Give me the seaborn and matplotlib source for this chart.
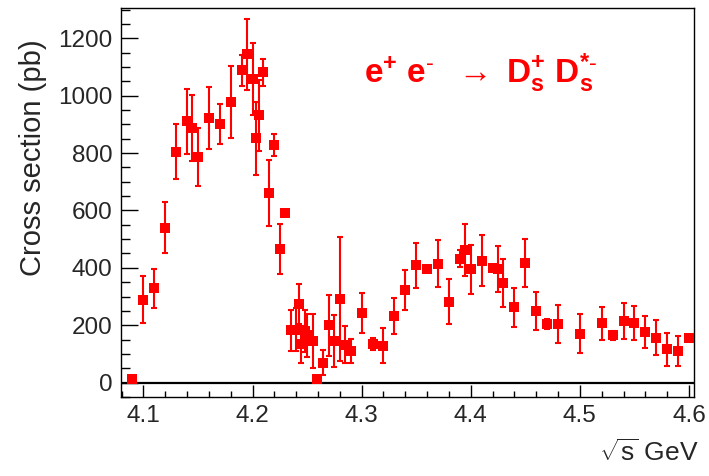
import numpy as np
import pandas as pd
import matplotlib
matplotlib.use('Agg')
import matplotlib.pyplot as plt
from matplotlib.ticker import MultipleLocator, FormatStrFormatter
import seaborn as sns

#########   data #################################
energy = [4.090, 4.100, 4.110, 4.120, 4.130, 4.140, 4.145, 4.150, 4.160, 4.170,
          4.180, 4.190, 4.195, 4.200, 4.203, 4.206, 4.210, 4.215, 4.220, 4.225,
          4.230, 4.235, 4.240, 4.2427, 4.2445, 4.248, 4.250, 4.255, 4.259, 4.265,
          4.270, 4.275, 4.280, 4.285, 4.290, 4.300, 4.310, 4.320, 4.330, 4.340,
          4.350, 4.360, 4.370, 4.380, 4.390, 4.395, 4.400, 4.410, 4.420, 4.425,
          4.430, 4.440, 4.450, 4.460, 4.470, 4.480, 4.500, 4.520, 4.530, 4.540,
          4.550, 4.560, 4.570, 4.580, 4.590, 4.600]
xsec = [12, 289, 329, 539, 805, 911, 886, 786, 922, 902,
        978, 1088, 1144, 1058, 851, 932, 1081, 661, 828, 467,
        591, 182, 185, 275, 133, 179, 165, 144, 12, 70,
        200, 145, 290, 132, 110, 243, 135, 129, 233, 323,
        409, 395, 415, 282, 432, 461, 395, 425, 400, 396,
        346, 263, 417, 250, 204, 205, 171, 207, 165, 216,
        208, 176, 157, 116, 111, 154]
xsec_err = [4, 81, 68, 89, 95, 113, 115, 101, 109, 70,
            124, 53, 123, 124, 128, 124, 47, 115, 38, 87,
            8, 72, 75, 70, 64, 74, 75, 94, 4, 45,
            107, 92, 216, 65, 43, 70, 22, 61, 62, 70,
            78, 6, 81, 78, 30, 91, 86, 90, 10, 79,
            84, 68, 83, 66, 17, 66, 69, 57, 15, 63,
            60, 56, 61, 57, 52, 6]

df = pd.DataFrame({'sqrt_s': energy, 'xsec': xsec, 'err': xsec_err})

sns.set_style('white')
plt.rcParams['font.family'] = ['Liberation Sans', 'DejaVu Sans']
plt.rcParams['mathtext.fontset'] = 'custom'
plt.rcParams['mathtext.rm'] = 'Liberation Sans'
plt.rcParams['mathtext.it'] = 'Liberation Sans'
plt.rcParams['mathtext.bf'] = 'Liberation Sans:bold'

fig = plt.figure(figsize=(7.09, 4.76), dpi=100)
ax = fig.add_axes([0.1707, 0.166, 0.808, 0.817])

red = '#ff0000'
ax.axhline(0, color='black', lw=1.6, zorder=1)
ax.errorbar(df['sqrt_s'], df['xsec'], yerr=df['err'], fmt='none',
            ecolor=red, elinewidth=1.5, capsize=2, capthick=1.5, zorder=2)
sns.scatterplot(data=df, x='sqrt_s', y='xsec', marker='s', color=red,
                s=42, linewidth=0, ax=ax, zorder=3)

ax.set_xlim(4.0795, 4.6045)
ax.set_ylim(-50, 1305)
ax.xaxis.set_major_locator(MultipleLocator(0.1))
ax.xaxis.set_minor_locator(MultipleLocator(0.02))
ax.xaxis.set_major_formatter(FormatStrFormatter('%.1f'))
ax.yaxis.set_major_locator(MultipleLocator(200))
ax.yaxis.set_minor_locator(MultipleLocator(50))
ax.tick_params(which='both', bottom=True, left=True, top=False, right=False, color='black')
ax.tick_params(axis='x', which='major', direction='in', length=9, width=1, labelsize=17.5, pad=6)
ax.tick_params(axis='x', which='minor', direction='in', length=4.5, width=1)
ax.tick_params(axis='y', which='major', direction='in', length=12, width=1, labelsize=17.5, pad=6)
ax.tick_params(axis='y', which='minor', direction='in', length=6.5, width=1)
for sp in ax.spines.values():
    sp.set_color('black')
    sp.set_linewidth(1)

ax.set_xlabel('')
ax.set_ylabel('Cross section (pb)', fontsize=21)
ax.yaxis.set_label_coords(-0.13, 0.615)
fig.text(0.985, 0.022, r'$\sqrt{s}$ GeV', ha='right', va='bottom', fontsize=19)

ax.text(0.424, 0.807,
        r'$\mathbf{e^{+}\ e^{\text{-}}}\ \ \rightarrow\ \mathbf{D_{s}^{+}\ D_{s}^{*\text{-}}}$',
        transform=ax.transAxes, color=red, fontsize=24, va='baseline')

plt.savefig('out.png', dpi=100)
